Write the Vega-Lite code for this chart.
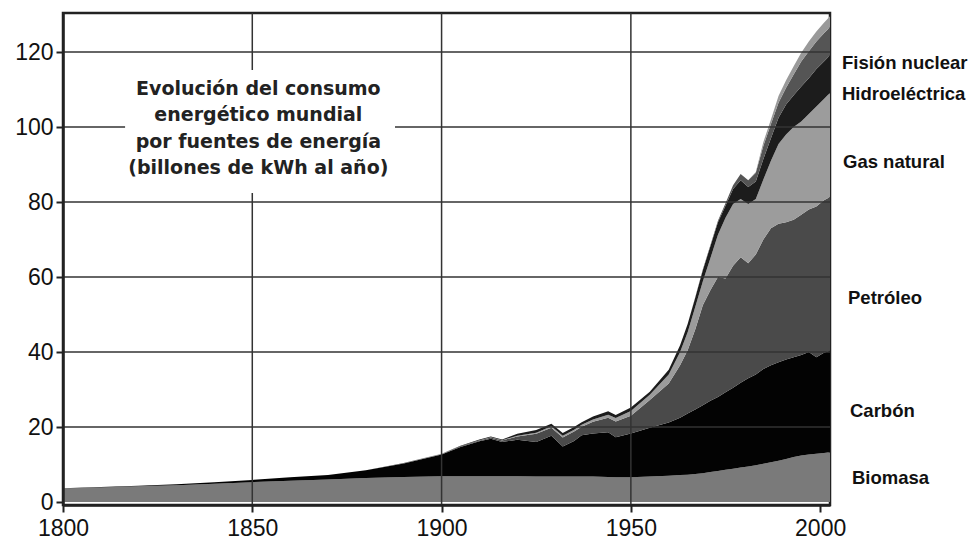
{
"$schema":"https://vega.github.io/schema/vega-lite/v6.json",
"width":767,"height":492,"autosize":"none",
"padding":{"left":63,"top":13,"right":140,"bottom":37},
"background":"white",
"config":{"view":{"stroke":"#222222","strokeWidth":2.5},"font":"Liberation Sans"},
"datasets":{
"orden":[{"source":"Biomasa","k":1},{"source":"Carbón","k":2},{"source":"Petróleo","k":3},{"source":"Gas natural","k":4},{"source":"Hidroeléctrica","k":5},{"source":"Fisión nuclear","k":6},{"source":"Otras","k":7}],
"energia":[
{"year":1800,"source":"Biomasa","value":3.6},{"year":1800,"source":"Carbón","value":0.1},{"year":1800,"source":"Petróleo","value":0},{"year":1800,"source":"Gas natural","value":0},{"year":1800,"source":"Hidroeléctrica","value":0},{"year":1800,"source":"Fisión nuclear","value":0},{"year":1800,"source":"Otras","value":0},
{"year":1810,"source":"Biomasa","value":3.9},{"year":1810,"source":"Carbón","value":0.1},{"year":1810,"source":"Petróleo","value":0},{"year":1810,"source":"Gas natural","value":0},{"year":1810,"source":"Hidroeléctrica","value":0},{"year":1810,"source":"Fisión nuclear","value":0},{"year":1810,"source":"Otras","value":0},
{"year":1820,"source":"Biomasa","value":4.2},{"year":1820,"source":"Carbón","value":0.15},{"year":1820,"source":"Petróleo","value":0},{"year":1820,"source":"Gas natural","value":0},{"year":1820,"source":"Hidroeléctrica","value":0},{"year":1820,"source":"Fisión nuclear","value":0},{"year":1820,"source":"Otras","value":0},
{"year":1830,"source":"Biomasa","value":4.5},{"year":1830,"source":"Carbón","value":0.25},{"year":1830,"source":"Petróleo","value":0},{"year":1830,"source":"Gas natural","value":0},{"year":1830,"source":"Hidroeléctrica","value":0},{"year":1830,"source":"Fisión nuclear","value":0},{"year":1830,"source":"Otras","value":0},
{"year":1840,"source":"Biomasa","value":4.9},{"year":1840,"source":"Carbón","value":0.35},{"year":1840,"source":"Petróleo","value":0},{"year":1840,"source":"Gas natural","value":0},{"year":1840,"source":"Hidroeléctrica","value":0},{"year":1840,"source":"Fisión nuclear","value":0},{"year":1840,"source":"Otras","value":0},
{"year":1850,"source":"Biomasa","value":5.3},{"year":1850,"source":"Carbón","value":0.6},{"year":1850,"source":"Petróleo","value":0},{"year":1850,"source":"Gas natural","value":0},{"year":1850,"source":"Hidroeléctrica","value":0},{"year":1850,"source":"Fisión nuclear","value":0},{"year":1850,"source":"Otras","value":0},
{"year":1860,"source":"Biomasa","value":5.7},{"year":1860,"source":"Carbón","value":0.9},{"year":1860,"source":"Petróleo","value":0},{"year":1860,"source":"Gas natural","value":0},{"year":1860,"source":"Hidroeléctrica","value":0},{"year":1860,"source":"Fisión nuclear","value":0},{"year":1860,"source":"Otras","value":0},
{"year":1870,"source":"Biomasa","value":6.0},{"year":1870,"source":"Carbón","value":1.2},{"year":1870,"source":"Petróleo","value":0},{"year":1870,"source":"Gas natural","value":0},{"year":1870,"source":"Hidroeléctrica","value":0},{"year":1870,"source":"Fisión nuclear","value":0},{"year":1870,"source":"Otras","value":0},
{"year":1880,"source":"Biomasa","value":6.4},{"year":1880,"source":"Carbón","value":2.1},{"year":1880,"source":"Petróleo","value":0},{"year":1880,"source":"Gas natural","value":0},{"year":1880,"source":"Hidroeléctrica","value":0},{"year":1880,"source":"Fisión nuclear","value":0},{"year":1880,"source":"Otras","value":0},
{"year":1890,"source":"Biomasa","value":6.7},{"year":1890,"source":"Carbón","value":3.6},{"year":1890,"source":"Petróleo","value":0.05},{"year":1890,"source":"Gas natural","value":0},{"year":1890,"source":"Hidroeléctrica","value":0.05},{"year":1890,"source":"Fisión nuclear","value":0},{"year":1890,"source":"Otras","value":0},
{"year":1900,"source":"Biomasa","value":6.9},{"year":1900,"source":"Carbón","value":5.8},{"year":1900,"source":"Petróleo","value":0.1},{"year":1900,"source":"Gas natural","value":0.05},{"year":1900,"source":"Hidroeléctrica","value":0.05},{"year":1900,"source":"Fisión nuclear","value":0},{"year":1900,"source":"Otras","value":0},
{"year":1905,"source":"Biomasa","value":6.9},{"year":1905,"source":"Carbón","value":7.8},{"year":1905,"source":"Petróleo","value":0.15},{"year":1905,"source":"Gas natural","value":0.05},{"year":1905,"source":"Hidroeléctrica","value":0.1},{"year":1905,"source":"Fisión nuclear","value":0},{"year":1905,"source":"Otras","value":0},
{"year":1910,"source":"Biomasa","value":6.9},{"year":1910,"source":"Carbón","value":9.3},{"year":1910,"source":"Petróleo","value":0.2},{"year":1910,"source":"Gas natural","value":0.1},{"year":1910,"source":"Hidroeléctrica","value":0.2},{"year":1910,"source":"Fisión nuclear","value":0},{"year":1910,"source":"Otras","value":0},
{"year":1913,"source":"Biomasa","value":6.9},{"year":1913,"source":"Carbón","value":10.0},{"year":1913,"source":"Petróleo","value":0.3},{"year":1913,"source":"Gas natural","value":0.1},{"year":1913,"source":"Hidroeléctrica","value":0.2},{"year":1913,"source":"Fisión nuclear","value":0},{"year":1913,"source":"Otras","value":0},
{"year":1916,"source":"Biomasa","value":6.9},{"year":1916,"source":"Carbón","value":9.1},{"year":1916,"source":"Petróleo","value":0.4},{"year":1916,"source":"Gas natural","value":0.1},{"year":1916,"source":"Hidroeléctrica","value":0.2},{"year":1916,"source":"Fisión nuclear","value":0},{"year":1916,"source":"Otras","value":0},
{"year":1920,"source":"Biomasa","value":6.9},{"year":1920,"source":"Carbón","value":9.7},{"year":1920,"source":"Petróleo","value":0.9},{"year":1920,"source":"Gas natural","value":0.2},{"year":1920,"source":"Hidroeléctrica","value":0.5},{"year":1920,"source":"Fisión nuclear","value":0},{"year":1920,"source":"Otras","value":0},
{"year":1925,"source":"Biomasa","value":6.8},{"year":1925,"source":"Carbón","value":9.2},{"year":1925,"source":"Petróleo","value":2.2},{"year":1925,"source":"Gas natural","value":0.3},{"year":1925,"source":"Hidroeléctrica","value":0.7},{"year":1925,"source":"Fisión nuclear","value":0},{"year":1925,"source":"Otras","value":0},
{"year":1929,"source":"Biomasa","value":6.8},{"year":1929,"source":"Carbón","value":10.9},{"year":1929,"source":"Petróleo","value":2.1},{"year":1929,"source":"Gas natural","value":0.4},{"year":1929,"source":"Hidroeléctrica","value":0.7},{"year":1929,"source":"Fisión nuclear","value":0},{"year":1929,"source":"Otras","value":0},
{"year":1932,"source":"Biomasa","value":6.8},{"year":1932,"source":"Carbón","value":8.0},{"year":1932,"source":"Petróleo","value":2.4},{"year":1932,"source":"Gas natural","value":0.5},{"year":1932,"source":"Hidroeléctrica","value":0.7},{"year":1932,"source":"Fisión nuclear","value":0},{"year":1932,"source":"Otras","value":0},
{"year":1935,"source":"Biomasa","value":6.8},{"year":1935,"source":"Carbón","value":9.5},{"year":1935,"source":"Petróleo","value":2.5},{"year":1935,"source":"Gas natural","value":0.5},{"year":1935,"source":"Hidroeléctrica","value":0.7},{"year":1935,"source":"Fisión nuclear","value":0},{"year":1935,"source":"Otras","value":0},
{"year":1937,"source":"Biomasa","value":6.8},{"year":1937,"source":"Carbón","value":11.0},{"year":1937,"source":"Petróleo","value":2.3},{"year":1937,"source":"Gas natural","value":0.5},{"year":1937,"source":"Hidroeléctrica","value":0.7},{"year":1937,"source":"Fisión nuclear","value":0},{"year":1937,"source":"Otras","value":0},
{"year":1940,"source":"Biomasa","value":6.8},{"year":1940,"source":"Carbón","value":11.5},{"year":1940,"source":"Petróleo","value":3.1},{"year":1940,"source":"Gas natural","value":0.6},{"year":1940,"source":"Hidroeléctrica","value":0.8},{"year":1940,"source":"Fisión nuclear","value":0},{"year":1940,"source":"Otras","value":0},
{"year":1944,"source":"Biomasa","value":6.7},{"year":1944,"source":"Carbón","value":11.9},{"year":1944,"source":"Petróleo","value":3.9},{"year":1944,"source":"Gas natural","value":0.8},{"year":1944,"source":"Hidroeléctrica","value":0.9},{"year":1944,"source":"Fisión nuclear","value":0},{"year":1944,"source":"Otras","value":0},
{"year":1946,"source":"Biomasa","value":6.6},{"year":1946,"source":"Carbón","value":10.7},{"year":1946,"source":"Petróleo","value":4.2},{"year":1946,"source":"Gas natural","value":0.9},{"year":1946,"source":"Hidroeléctrica","value":0.8},{"year":1946,"source":"Fisión nuclear","value":0},{"year":1946,"source":"Otras","value":0},
{"year":1950,"source":"Biomasa","value":6.6},{"year":1950,"source":"Carbón","value":11.7},{"year":1950,"source":"Petróleo","value":4.7},{"year":1950,"source":"Gas natural","value":1.3},{"year":1950,"source":"Hidroeléctrica","value":0.9},{"year":1950,"source":"Fisión nuclear","value":0},{"year":1950,"source":"Otras","value":0},
{"year":1955,"source":"Biomasa","value":6.8},{"year":1955,"source":"Carbón","value":13.0},{"year":1955,"source":"Petróleo","value":7.4},{"year":1955,"source":"Gas natural","value":1.4},{"year":1955,"source":"Hidroeléctrica","value":0.8},{"year":1955,"source":"Fisión nuclear","value":0},{"year":1955,"source":"Otras","value":0},
{"year":1960,"source":"Biomasa","value":7.0},{"year":1960,"source":"Carbón","value":14.2},{"year":1960,"source":"Petróleo","value":10.4},{"year":1960,"source":"Gas natural","value":2.4},{"year":1960,"source":"Hidroeléctrica","value":1.3},{"year":1960,"source":"Fisión nuclear","value":0},{"year":1960,"source":"Otras","value":0},
{"year":1963,"source":"Biomasa","value":7.2},{"year":1963,"source":"Carbón","value":15.3},{"year":1963,"source":"Petróleo","value":14.0},{"year":1963,"source":"Gas natural","value":3.5},{"year":1963,"source":"Hidroeléctrica","value":1.8},{"year":1963,"source":"Fisión nuclear","value":0},{"year":1963,"source":"Otras","value":0},
{"year":1965,"source":"Biomasa","value":7.3},{"year":1965,"source":"Carbón","value":16.3},{"year":1965,"source":"Petróleo","value":16.9},{"year":1965,"source":"Gas natural","value":4.8},{"year":1965,"source":"Hidroeléctrica","value":2.2},{"year":1965,"source":"Fisión nuclear","value":0},{"year":1965,"source":"Otras","value":0},
{"year":1967,"source":"Biomasa","value":7.5},{"year":1967,"source":"Carbón","value":17.2},{"year":1967,"source":"Petróleo","value":21.3},{"year":1967,"source":"Gas natural","value":6.0},{"year":1967,"source":"Hidroeléctrica","value":2.5},{"year":1967,"source":"Fisión nuclear","value":0.1},{"year":1967,"source":"Otras","value":0},
{"year":1969,"source":"Biomasa","value":7.7},{"year":1969,"source":"Carbón","value":18.1},{"year":1969,"source":"Petróleo","value":26.7},{"year":1969,"source":"Gas natural","value":6.3},{"year":1969,"source":"Hidroeléctrica","value":3.0},{"year":1969,"source":"Fisión nuclear","value":0.2},{"year":1969,"source":"Otras","value":0},
{"year":1971,"source":"Biomasa","value":8.0},{"year":1971,"source":"Carbón","value":19.0},{"year":1971,"source":"Petróleo","value":29.5},{"year":1971,"source":"Gas natural","value":8.5},{"year":1971,"source":"Hidroeléctrica","value":3.2},{"year":1971,"source":"Fisión nuclear","value":0.3},{"year":1971,"source":"Otras","value":0},
{"year":1973,"source":"Biomasa","value":8.3},{"year":1973,"source":"Carbón","value":19.7},{"year":1973,"source":"Petróleo","value":32.0},{"year":1973,"source":"Gas natural","value":11.3},{"year":1973,"source":"Hidroeléctrica","value":3.3},{"year":1973,"source":"Fisión nuclear","value":0.4},{"year":1973,"source":"Otras","value":0},
{"year":1975,"source":"Biomasa","value":8.6},{"year":1975,"source":"Carbón","value":20.7},{"year":1975,"source":"Petróleo","value":30.3},{"year":1975,"source":"Gas natural","value":16.2},{"year":1975,"source":"Hidroeléctrica","value":3.2},{"year":1975,"source":"Fisión nuclear","value":0.7},{"year":1975,"source":"Otras","value":0},
{"year":1977,"source":"Biomasa","value":8.9},{"year":1977,"source":"Carbón","value":21.6},{"year":1977,"source":"Petróleo","value":32.5},{"year":1977,"source":"Gas natural","value":16.5},{"year":1977,"source":"Hidroeléctrica","value":4.0},{"year":1977,"source":"Fisión nuclear","value":1.0},{"year":1977,"source":"Otras","value":0},
{"year":1979,"source":"Biomasa","value":9.2},{"year":1979,"source":"Carbón","value":22.6},{"year":1979,"source":"Petróleo","value":33.5},{"year":1979,"source":"Gas natural","value":15.5},{"year":1979,"source":"Hidroeléctrica","value":5.0},{"year":1979,"source":"Fisión nuclear","value":1.7},{"year":1979,"source":"Otras","value":0},
{"year":1981,"source":"Biomasa","value":9.5},{"year":1981,"source":"Carbón","value":23.5},{"year":1981,"source":"Petróleo","value":30.7},{"year":1981,"source":"Gas natural","value":15.8},{"year":1981,"source":"Hidroeléctrica","value":4.5},{"year":1981,"source":"Fisión nuclear","value":1.8},{"year":1981,"source":"Otras","value":0},
{"year":1983,"source":"Biomasa","value":9.8},{"year":1983,"source":"Carbón","value":24.2},{"year":1983,"source":"Petróleo","value":32.0},{"year":1983,"source":"Gas natural","value":14.8},{"year":1983,"source":"Hidroeléctrica","value":4.7},{"year":1983,"source":"Fisión nuclear","value":2.3},{"year":1983,"source":"Otras","value":0.2},
{"year":1985,"source":"Biomasa","value":10.2},{"year":1985,"source":"Carbón","value":25.3},{"year":1985,"source":"Petróleo","value":34.5},{"year":1985,"source":"Gas natural","value":16.0},{"year":1985,"source":"Hidroeléctrica","value":5.5},{"year":1985,"source":"Fisión nuclear","value":3.5},{"year":1985,"source":"Otras","value":1.0},
{"year":1987,"source":"Biomasa","value":10.6},{"year":1987,"source":"Carbón","value":25.9},{"year":1987,"source":"Petróleo","value":36.5},{"year":1987,"source":"Gas natural","value":18.0},{"year":1987,"source":"Hidroeléctrica","value":6.0},{"year":1987,"source":"Fisión nuclear","value":3.8},{"year":1987,"source":"Otras","value":1.2},
{"year":1989,"source":"Biomasa","value":11.0},{"year":1989,"source":"Carbón","value":26.3},{"year":1989,"source":"Petróleo","value":36.9},{"year":1989,"source":"Gas natural","value":21.3},{"year":1989,"source":"Hidroeléctrica","value":7.0},{"year":1989,"source":"Fisión nuclear","value":4.0},{"year":1989,"source":"Otras","value":1.8},
{"year":1991,"source":"Biomasa","value":11.5},{"year":1991,"source":"Carbón","value":26.5},{"year":1991,"source":"Petróleo","value":36.6},{"year":1991,"source":"Gas natural","value":23.4},{"year":1991,"source":"Hidroeléctrica","value":8.0},{"year":1991,"source":"Fisión nuclear","value":4.5},{"year":1991,"source":"Otras","value":2.0},
{"year":1993,"source":"Biomasa","value":12.0},{"year":1993,"source":"Carbón","value":26.6},{"year":1993,"source":"Petróleo","value":36.7},{"year":1993,"source":"Gas natural","value":24.7},{"year":1993,"source":"Hidroeléctrica","value":8.5},{"year":1993,"source":"Fisión nuclear","value":5.5},{"year":1993,"source":"Otras","value":2.2},
{"year":1995,"source":"Biomasa","value":12.4},{"year":1995,"source":"Carbón","value":26.8},{"year":1995,"source":"Petróleo","value":37.4},{"year":1995,"source":"Gas natural","value":24.9},{"year":1995,"source":"Hidroeléctrica","value":9.3},{"year":1995,"source":"Fisión nuclear","value":6.7},{"year":1995,"source":"Otras","value":2.3},
{"year":1997,"source":"Biomasa","value":12.7},{"year":1997,"source":"Carbón","value":27.3},{"year":1997,"source":"Petróleo","value":38.0},{"year":1997,"source":"Gas natural","value":25.5},{"year":1997,"source":"Hidroeléctrica","value":9.5},{"year":1997,"source":"Fisión nuclear","value":7.2},{"year":1997,"source":"Otras","value":2.6},
{"year":1999,"source":"Biomasa","value":12.9},{"year":1999,"source":"Carbón","value":25.7},{"year":1999,"source":"Petróleo","value":40.2},{"year":1999,"source":"Gas natural","value":26.7},{"year":1999,"source":"Hidroeléctrica","value":10.0},{"year":1999,"source":"Fisión nuclear","value":7.3},{"year":1999,"source":"Otras","value":2.7},
{"year":2001,"source":"Biomasa","value":13.1},{"year":2001,"source":"Carbón","value":26.7},{"year":2001,"source":"Petróleo","value":40.7},{"year":2001,"source":"Gas natural","value":27.0},{"year":2001,"source":"Hidroeléctrica","value":10.0},{"year":2001,"source":"Fisión nuclear","value":7.5},{"year":2001,"source":"Otras","value":2.8},
{"year":2003,"source":"Biomasa","value":13.3},{"year":2003,"source":"Carbón","value":27.2},{"year":2003,"source":"Petróleo","value":41.0},{"year":2003,"source":"Gas natural","value":28.0},{"year":2003,"source":"Hidroeléctrica","value":10.0},{"year":2003,"source":"Fisión nuclear","value":7.5},{"year":2003,"source":"Otras","value":3.0}
]},
"layer":[
{"data":{"name":"energia"},
 "transform":[{"lookup":"source","from":{"data":{"name":"orden"},"key":"source","fields":["k"]}}],
 "mark":{"type":"area","clip":true,"interpolate":"linear"},
 "encoding":{
  "x":{"field":"year","type":"quantitative","scale":{"domain":[1800,2002.6],"nice":false,"zero":false},
       "axis":{"values":[1800,1850,1900,1950,2000],"format":"d","title":null,"grid":false,"labelFontSize":23,"labelColor":"#111111","tickColor":"#222222","tickSize":7,"tickWidth":2,"domainColor":"#222222","domainWidth":2.5,"labelPadding":5,"zindex":1,"labelFlush":false,"labelOverlap":false,"labelBound":false}},
  "y":{"field":"value","type":"quantitative","stack":"zero","scale":{"domain":[-0.8,130.4],"nice":false,"zero":false},
       "axis":{"values":[0,20,40,60,80,100,120],"title":null,"grid":false,"labelFontSize":23,"labelColor":"#111111","tickColor":"#222222","tickSize":7,"tickWidth":2,"domainColor":"#222222","domainWidth":2.5,"labelPadding":3,"zindex":1,"labelFlush":false,"labelOverlap":false,"labelBound":false}},
  "color":{"field":"source","type":"nominal","legend":null,
       "scale":{"domain":["Biomasa","Carbón","Petróleo","Gas natural","Hidroeléctrica","Fisión nuclear","Otras"],
                "range":["#7a7a7a","#030303","#4a4a4a","#9c9c9c","#1c1c1c","#555555","#999999"]}},
  "order":{"field":"k","type":"quantitative","sort":"ascending"}
 }},
{"data":{"values":[{"g":20},{"g":40},{"g":60},{"g":80},{"g":100},{"g":120}]},
 "mark":{"type":"rule","color":"#333333","strokeWidth":1.5},
 "encoding":{"y":{"field":"g","type":"quantitative"}}},
{"data":{"values":[{"g":1850},{"g":1900},{"g":1950}]},
 "mark":{"type":"rule","color":"#333333","strokeWidth":1.5},
 "encoding":{"x":{"field":"g","type":"quantitative"}}},
{"data":{"values":[{}]},
 "mark":{"type":"rect","color":"white"},
 "encoding":{"x":{"datum":1816.4,"type":"quantitative"},"x2":{"datum":1887.7},"y":{"datum":115.2,"type":"quantitative"},"y2":{"datum":82.4}}},
{"data":{"values":[{}]},
 "mark":{"type":"text","font":"DejaVu Sans","fontWeight":"bold","fontSize":19,"lineHeight":26.3,"align":"center","baseline":"middle","color":"#222222"},
 "encoding":{"x":{"datum":1851.6,"type":"quantitative"},"y":{"datum":110.1,"type":"quantitative"},
   "text":{"value":["Evolución del consumo","energético mundial","por fuentes de energía","(billones de  kWh al año)"]}}},
{"data":{"values":[{}]},
 "mark":{"type":"text","fontWeight":"bold","fontSize":18.5,"align":"left","baseline":"middle","dx":12,"color":"#111111"},
 "encoding":{"x":{"datum":2002.6,"type":"quantitative"},"y":{"datum":117.2,"type":"quantitative"},"text":{"value":"Fisión nuclear"}}},
{"data":{"values":[{}]},
 "mark":{"type":"text","fontWeight":"bold","fontSize":18.5,"align":"left","baseline":"middle","dx":12,"color":"#111111"},
 "encoding":{"x":{"datum":2002.6,"type":"quantitative"},"y":{"datum":108.7,"type":"quantitative"},"text":{"value":"Hidroeléctrica"}}},
{"data":{"values":[{}]},
 "mark":{"type":"text","fontWeight":"bold","fontSize":18.5,"align":"left","baseline":"middle","dx":13,"color":"#111111"},
 "encoding":{"x":{"datum":2002.6,"type":"quantitative"},"y":{"datum":90.8,"type":"quantitative"},"text":{"value":"Gas natural"}}},
{"data":{"values":[{}]},
 "mark":{"type":"text","fontWeight":"bold","fontSize":18.5,"align":"left","baseline":"middle","dx":18,"color":"#111111"},
 "encoding":{"x":{"datum":2002.6,"type":"quantitative"},"y":{"datum":54.3,"type":"quantitative"},"text":{"value":"Petróleo"}}},
{"data":{"values":[{}]},
 "mark":{"type":"text","fontWeight":"bold","fontSize":18.5,"align":"left","baseline":"middle","dx":20,"color":"#111111"},
 "encoding":{"x":{"datum":2002.6,"type":"quantitative"},"y":{"datum":24.4,"type":"quantitative"},"text":{"value":"Carbón"}}},
{"data":{"values":[{}]},
 "mark":{"type":"text","fontWeight":"bold","fontSize":18.5,"align":"left","baseline":"middle","dx":22,"color":"#111111"},
 "encoding":{"x":{"datum":2002.6,"type":"quantitative"},"y":{"datum":6.5,"type":"quantitative"},"text":{"value":"Biomasa"}}}
]
}
